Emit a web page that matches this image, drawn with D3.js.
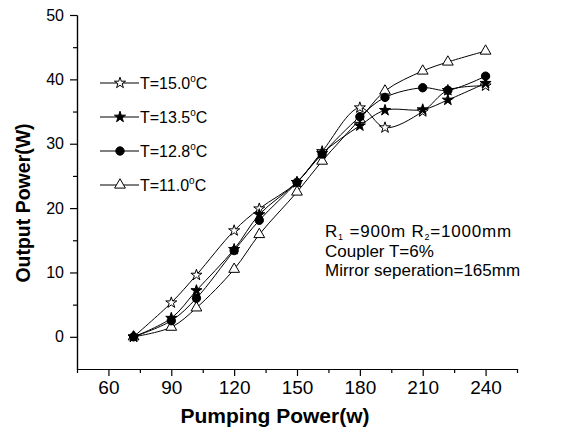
<!DOCTYPE html>
<html>
<head>
<meta charset="utf-8">
<script src="https://cdn.jsdelivr.net/npm/d3@7"></script>
<style>
  body { margin: 0; background: white; }
  svg { display: block; font-family: "Liberation Sans", Arial, sans-serif; }
</style>
</head>
<body>
<svg id="chart" width="562" height="437"></svg>
<script>
// pumping power (w) for every measured point
let pump = [72, 90, 102, 120, 132, 150, 162, 180, 192, 210, 222, 240];

// output power (W) per temperature
let t150 = [0, 5.3, 9.6, 16.5, 19.9, 24.0, 28.8, 35.6, 32.5, 35.0, 38.3, 39.0];
let t135 = [0, 2.9, 7.2, 13.6, 19.0, 24.0, 28.5, 32.8, 35.2, 35.3, 36.8, 39.4];
let t128 = [0, 2.5, 6.0, 13.4, 18.1, 24.0, 28.4, 34.2, 37.2, 38.7, 38.3, 40.5];
let t110 = [0, 1.5, 4.5, 10.5, 15.9, 22.5, 27.3, 33.8, 38.2, 41.3, 42.7, 44.4];

let seriesNames = ['T=15.0', 'T=13.5', 'T=12.8', 'T=11.0'];
let seriesVals = [t150, t135, t128, t110];

let xMajor = [60, 90, 120, 150, 180, 210, 240];
let xMinor = [45, 75, 105, 135, 165, 195, 225, 255];
let yMajor = [0, 10, 20, 30, 40, 50];
let yMinor = [5, 15, 25, 35, 45];

let notes = ['Coupler T=6%', 'Mirror seperation=165mm'];

let svg = d3.select('#chart');

let sx = d3.scaleLinear().domain([45, 255]).range([77, 517]);
let sy = d3.scaleLinear().domain([-5, 50]).range([369, 15]);

// symbol + fill for each series
let markers = [
  {type: d3.symbolStar, size: 38, fill: 'white'},
  {type: d3.symbolStar, size: 38, fill: 'black'},
  {type: d3.symbolCircle, size: 55, fill: 'black'},
  {type: d3.symbolTriangle, size: 50, fill: 'white'}
];
// marker paint order (triangles underneath)
let drawOrder = [3, 0, 1, 2];

// axes: minor ticks first, then major with labels
let xAxisMinor = d3.axisBottom(sx).tickValues(xMinor).tickSize(4).tickSizeOuter(0).tickFormat('');
let xAxisMajor = d3.axisBottom(sx).tickValues(xMajor).tickSize(7).tickSizeOuter(0).tickPadding(5);
let yAxisMinor = d3.axisLeft(sy).tickValues(yMinor).tickSize(4).tickSizeOuter(0).tickFormat('');
let yAxisMajor = d3.axisLeft(sy).tickValues(yMajor).tickSize(7).tickSizeOuter(0).tickPadding(6);

function styleAxis(g) {
  g.selectAll('path, line').attr('stroke', 'black').attr('stroke-width', 1.2);
  g.selectAll('text').attr('fill', 'black').attr('font-family', '"Liberation Sans", Arial, sans-serif');
}

svg.append('g').attr('transform', 'translate(0,369)').call(xAxisMinor).call(styleAxis);
svg.append('g').attr('transform', 'translate(0,369)').call(xAxisMajor).call(styleAxis)
  .selectAll('text').attr('font-size', 19);
svg.append('g').attr('transform', 'translate(77,0)').call(yAxisMinor).call(styleAxis);
svg.append('g').attr('transform', 'translate(77,0)').call(yAxisMajor).call(styleAxis)
  .selectAll('text').attr('font-size', 16);

// axis titles
svg.append('text')
  .attr('x', 275).attr('y', 423)
  .attr('text-anchor', 'middle')
  .attr('font-size', 21).attr('font-weight', 'bold')
  .text('Pumping Power(w)');

svg.append('text')
  .attr('transform', 'translate(30,203) rotate(-90)')
  .attr('text-anchor', 'middle')
  .attr('font-size', 19.5).attr('font-weight', 'bold')
  .text('Output Power(W)');

// curves
let line = d3.line()
  .x((d, i) => sx(pump[i]))
  .y(d => sy(d))
  .curve(d3.curveCatmullRom.alpha(0.5));

let plot = svg.append('g');
seriesVals.forEach(vals => {
  plot.append('path')
    .attr('d', line(vals))
    .attr('fill', 'none')
    .attr('stroke', 'black')
    .attr('stroke-width', 1);
});

drawOrder.forEach(k => {
  let m = markers[k];
  plot.append('g').selectAll('path')
    .data(seriesVals[k])
    .join('path')
      .attr('transform', (d, i) => `translate(${sx(pump[i])},${sy(d)})`)
      .attr('d', d3.symbol().type(m.type).size(m.size))
      .attr('fill', m.fill)
      .attr('stroke', 'black')
      .attr('stroke-width', 1);
});

// legend
let legend = svg.append('g');
seriesNames.forEach((name, k) => {
  let y = 83 + k * 34;
  let m = markers[k];
  legend.append('line')
    .attr('x1', 100).attr('x2', 139).attr('y1', y).attr('y2', y)
    .attr('stroke', 'black').attr('stroke-width', 1.2);
  legend.append('path')
    .attr('transform', `translate(120,${y})`)
    .attr('d', d3.symbol().type(m.type).size(m.size))
    .attr('fill', m.fill).attr('stroke', 'black');
  let t = legend.append('text')
    .attr('x', 140).attr('y', y + 6)
    .attr('font-size', 16);
  t.append('tspan').text(name);
  t.append('tspan').attr('dy', -7).attr('font-size', 10).text('o');
  t.append('tspan').attr('dy', 7).text('C');
});

// annotation
let note = svg.append('text')
  .attr('x', 325).attr('y', 237)
  .attr('font-size', 17)
  .attr('letter-spacing', 0.8);
note.append('tspan').text('R');
note.append('tspan').attr('dy', 3).attr('font-size', 9).text('1');
note.append('tspan').attr('dy', -3).text(' =900m R');
note.append('tspan').attr('dy', 3).attr('font-size', 9).text('2');
note.append('tspan').attr('dy', -3).text('=1000mm');

notes.forEach((s, i) => {
  svg.append('text')
    .attr('x', 325).attr('y', 257 + i * 19)
    .attr('font-size', 17)
    .text(s);
});
</script>
</body>
</html>
